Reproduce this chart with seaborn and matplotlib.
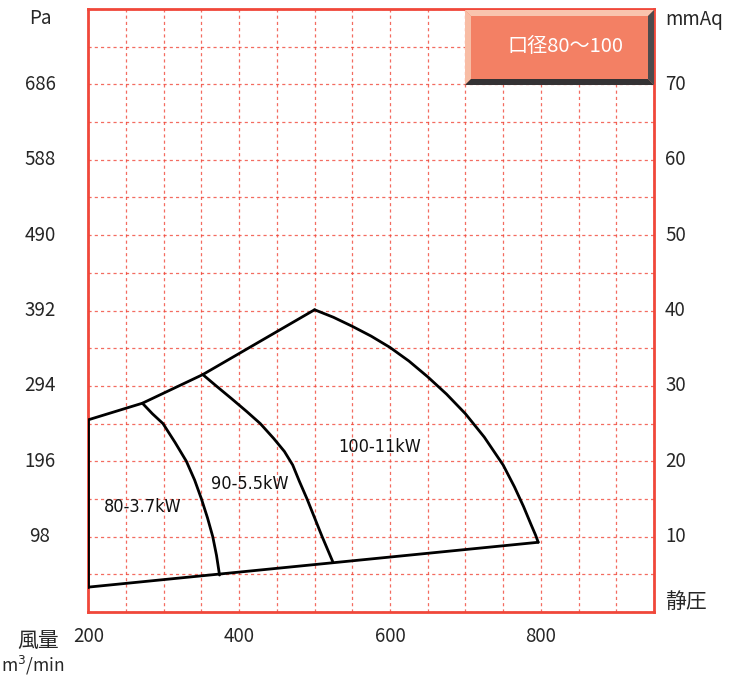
import matplotlib
matplotlib.use("Agg")
import matplotlib.pyplot as plt
import matplotlib.patches as mpatches
import pandas as pd
import seaborn as sns

# 運転範囲の境界 (x: 風量 m3/min, y: 静圧 mmAq)
left_x = [200, 200]
left_y = [3.3, 25.5]
top_x = [200, 271.7, 351.8, 500]
top_y = [25.5, 27.7, 31.5, 40.1]
right_x = [500, 525, 550, 575, 600, 625, 650, 675, 700, 725, 750, 765, 777, 787, 793, 796.5]
right_y = [40.1, 39.1, 37.9, 36.6, 35.1, 33.3, 31.2, 28.9, 26.3, 23.2, 19.5, 16.6, 14.0, 11.6, 10.2, 9.25]
bottom_x = [200, 796.5]
bottom_y = [3.3, 9.25]

# モーター区分線
c80_x = [271.7, 285, 299, 315, 330, 341, 350, 358, 365, 370, 374]
c80_y = [27.7, 26.3, 25.0, 22.5, 20.0, 17.5, 15.0, 12.5, 10.0, 7.5, 4.9]
c90_x = [351.8, 369.5, 390, 410, 428, 446, 460, 471, 480, 490, 500, 510, 524]
c90_y = [31.5, 30.0, 28.3, 26.6, 25.0, 23.0, 21.3, 19.5, 17.3, 15.0, 12.5, 10.0, 6.7]

labels = ["80-3.7kW", "90-5.5kW", "100-11kW"]
label_x = [272, 414, 586]
label_y = [13.9, 17.0, 21.9]

mmaq_ticks = [10, 20, 30, 40, 50, 60, 70]
pa_labels = ["98", "196", "294", "392", "490", "588", "686"]
flow_ticks = [200, 400, 600, 800]

sns.set_theme(style="white")
plt.rcParams['font.family'] = ['Noto Sans CJK JP', 'DejaVu Sans']

W, H = 739, 675
fig = plt.figure(figsize=(W / 100, H / 100), dpi=100)
ax = fig.add_axes([88.3 / W, 1 - 612 / H, (654 - 88.3) / W, (612 - 9) / H])

red = '#f0473a'
segs = [(left_x, left_y), (top_x, top_y), (right_x, right_y), (bottom_x, bottom_y),
        (c80_x, c80_y), (c90_x, c90_y)]
for i, (xs, ys) in enumerate(segs):
    df = pd.DataFrame({'x': xs, 'y': ys})
    sns.lineplot(data=df, x='x', y='y', sort=False, estimator=None, color='black',
                 linewidth=2.0, ax=ax, zorder=3)

for t, x, y in zip(labels, label_x, label_y):
    ax.text(x, y, t, fontsize=13, ha='center', va='center', color='#111111',
            family=['DejaVu Sans'], stretch='condensed')

ax.set_xlim(200, 950)
ax.set_ylim(0, 80)
ax.set_xticks(range(200, 951, 50))
ax.set_yticks(range(0, 81, 5))
ax.grid(True, color=red, linestyle=(0, (2.5, 2.5)), linewidth=0.9, alpha=0.8)
ax.tick_params(left=False, bottom=False, labelleft=False, labelbottom=False)
for s in ax.spines.values():
    s.set_color(red)
    s.set_linewidth(2)
ax.set_xlabel('')
ax.set_ylabel('')

# 軸ラベル (図の座標で配置)
def fx(px):
    return px / W

def fy(py):
    return 1 - py / H

def ypix(v):
    return 612 - v * (612 - 9) / 80

def xpix(v):
    return 88.3 + (v - 200) * (654 - 88.3) / 750

fs = 13.5
for v, lab in zip(mmaq_ticks, pa_labels):
    fig.text(fx(40), fy(ypix(v)), lab, fontsize=fs, ha='center', va='center')
    fig.text(fx(665), fy(ypix(v)), str(v), fontsize=fs, ha='left', va='center')
for v in flow_ticks:
    fig.text(fx(xpix(v)), fy(636), str(v), fontsize=fs, ha='center', va='center')

fig.text(fx(40), fy(19), 'Pa', fontsize=fs, ha='center', va='center')
fig.text(fx(665), fy(19), 'mmAq', fontsize=fs, ha='left', va='center')
fig.text(fx(665), fy(602), '静圧', fontsize=15, ha='left', va='center')
fig.text(fx(38), fy(641), '風量', fontsize=15, ha='center', va='center')
fig.text(fx(33), fy(665), 'm$^3$/min', fontsize=12.5, ha='center', va='center')

# タイトルボックス (ベベル付き)
x0, x1, y0, y1, d = 465, 654, 10, 85, 6
def poly(pts, color):
    fig.patches.append(mpatches.Polygon([(fx(a), fy(b)) for a, b in pts], closed=True,
                                        transform=fig.transFigure, facecolor=color,
                                        edgecolor='none', zorder=5))
poly([(x0, y0), (x1, y0), (x1, y1), (x0, y1)], '#f38064')
poly([(x0, y0), (x1, y0), (x1 - d, y0 + d), (x0 + d, y0 + d)], '#f9c4ae')
poly([(x0, y0), (x0 + d, y0 + d), (x0 + d, y1 - d), (x0, y1)], '#f8bca4')
poly([(x0, y1), (x0 + d, y1 - d), (x1 - d, y1 - d), (x1, y1)], '#343234')
poly([(x1, y0), (x1, y1), (x1 - d, y1 - d), (x1 - d, y0 + d)], '#4d4b4d')
fig.text(fx(565), fy(47), '口径80～100', fontsize=14.5, color='white', ha='center',
         va='center', zorder=6)

fig.savefig('out.png', dpi=100)
